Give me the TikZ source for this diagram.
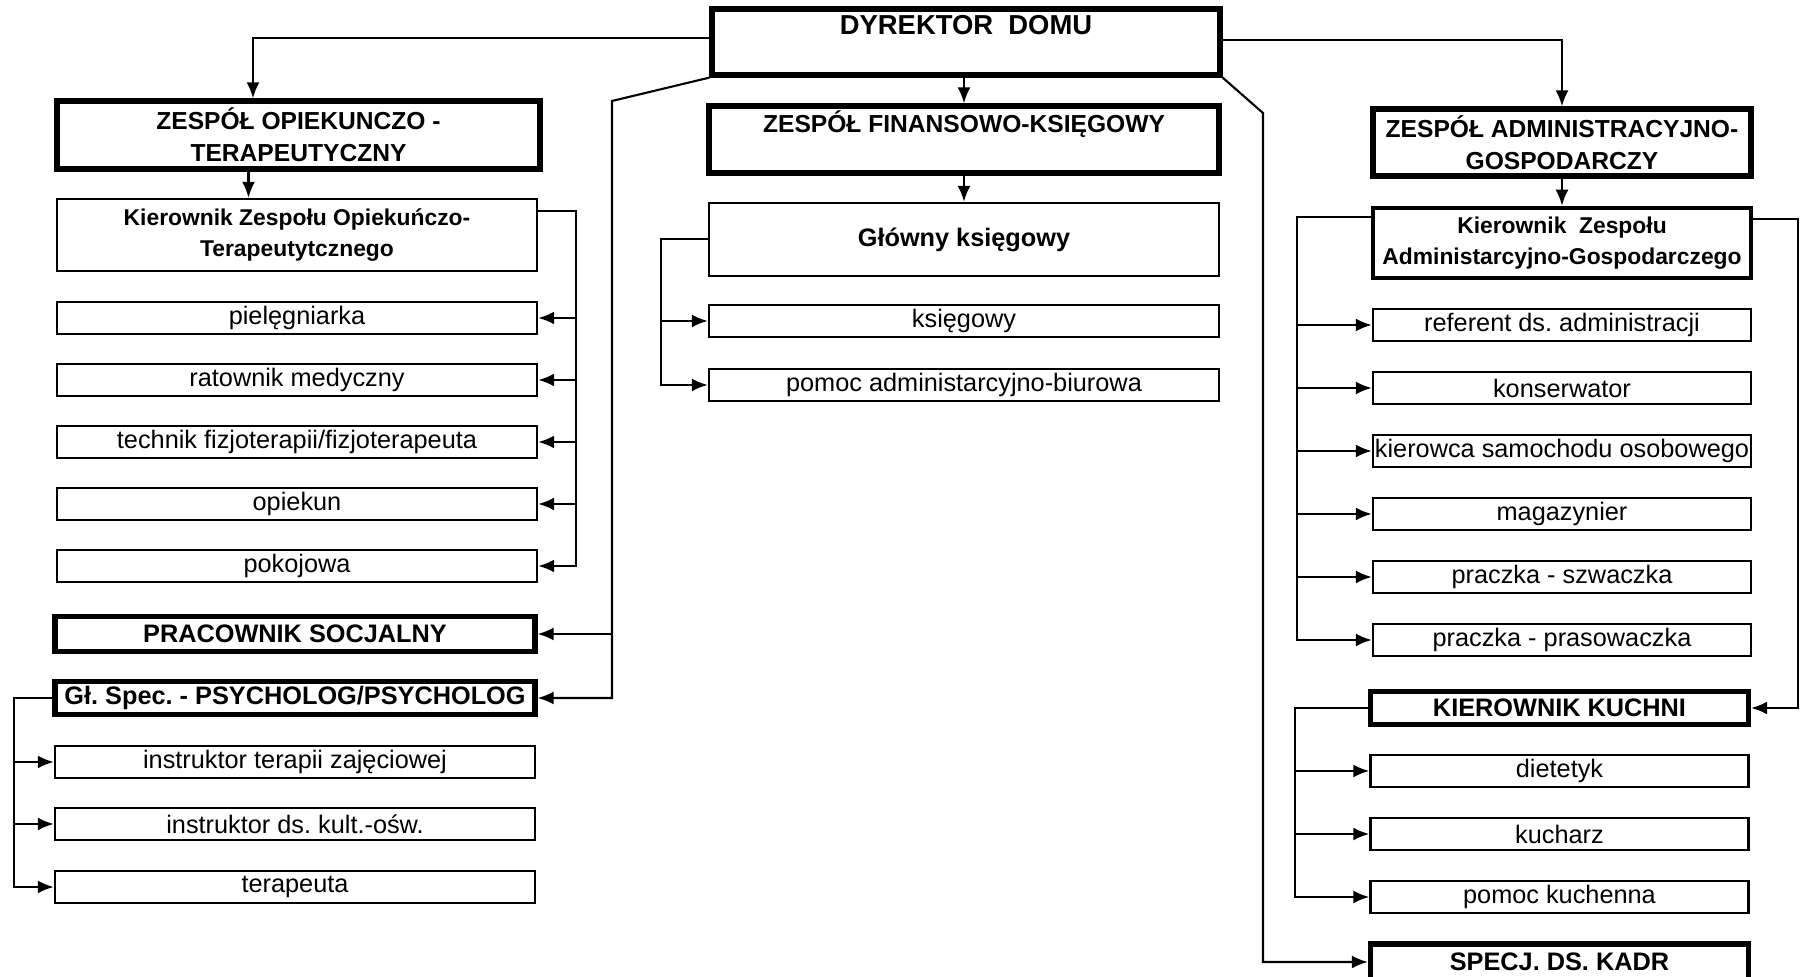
\documentclass[tikz,border=0pt]{standalone}
\usepackage{fontspec}
\setmainfont{Liberation Sans}
\usetikzlibrary{arrows.meta,positioning}
\tikzset{
  orgbox/.style={draw, rectangle, inner sep=0pt, align=center, line width=0.7pt},
  postbox/.style={orgbox, minimum height=0.32cm, font=\fontsize{7.2}{9}\selectfont},
  headbox/.style={orgbox, line width=1.5pt, font=\bfseries\fontsize{7}{9}\selectfont},
  leadbox/.style={orgbox, font=\bfseries\fontsize{6.5}{8.8}\selectfont},
  namedbox/.style={postbox, line width=1.5pt, font=\bfseries\fontsize{7.2}{9}\selectfont},
  link/.style={line width=0.6pt},
  leftcol/.style={minimum width=4.8cm},
  midcol/.style={minimum width=5.1cm},
  rightcol/.style={minimum width=3.78cm}
}
\begin{document}
\frenchspacing
\begin{tikzpicture}[>={Latex[length=1.6mm,width=1.3mm]}, node distance=0.62cm, on grid]
\useasboundingbox (0,0) rectangle (18,-9.77);
% dyrektor
\node[headbox, minimum width=5.08cm, minimum height=0.66cm, text height=0.26cm, text depth=0.40cm,
      font=\bfseries\fontsize{7.8}{9}\selectfont] (dyr) at (9.66,-0.42) {DYREKTOR\ \ DOMU};

% zespol opiekunczo-terapeutyczny
\node[headbox, minimum width=4.83cm, minimum height=0.68cm] (op) at (2.985,-1.35) {ZESPÓŁ OPIEKUNCZO -\\TERAPEUTYCZNY};
\node[leadbox, leftcol, minimum height=0.72cm] (kot) at (2.97,-2.35) {Kierownik Zespołu Opiekuńczo-\\Terapeutytcznego};
\node[postbox, leftcol] (piel) [below=0.83cm of kot] {pielęgniarka};
\node[postbox, leftcol] (rat) [below=of piel] {ratownik medyczny};
\node[postbox, leftcol] (tech) [below=of rat] {technik fizjoterapii/fizjoterapeuta};
\node[postbox, leftcol] (opie) [below=of tech] {opiekun};
\node[postbox, leftcol] (pok) [below=of opie] {pokojowa};
\node[namedbox, leftcol, minimum height=0.35cm] (ps) at (2.95,-6.34) {PRACOWNIK SOCJALNY};
\node[namedbox, leftcol, minimum height=0.33cm] (gs) [below=0.64cm of ps] {Gł. Spec. - PSYCHOLOG/PSYCHOLOG};
\node[postbox, leftcol] (itz) [below=0.64cm of gs] {instruktor terapii zajęciowej};
\node[postbox, leftcol] (ikd) [below=of itz] {instruktor ds. kult.-ośw.};
\node[postbox, leftcol] (ter) [below=0.63cm of ikd] {terapeuta};

% zespol finansowo-ksiegowy
\node[headbox, midcol, minimum height=0.67cm, text height=0.27cm, text depth=0.40cm] (fin) at (9.64,-1.395) {ZESPÓŁ FINANSOWO-KSIĘGOWY};
\node[orgbox, midcol, minimum height=0.73cm, font=\bfseries\fontsize{7.2}{9}\selectfont] (glk) at (9.64,-2.395) {Główny księgowy};
\node[postbox, midcol] (ksi) [below=0.815cm of glk] {księgowy};
\node[postbox, midcol] (pab) [below=0.64cm of ksi] {pomoc administarcyjno-biurowa};

% zespol administracyjno-gospodarczy
\node[headbox, rightcol, minimum height=0.67cm] (adm) at (15.62,-1.425) {ZESPÓŁ ADMINISTRACYJNO-\\GOSPODARCZY};
\node[leadbox, rightcol, line width=1.3pt, minimum height=0.70cm] (kag) at (15.62,-2.43) {Kierownik\ \ Zespołu\\Administarcyjno-Gospodarczego};
\node[postbox, rightcol] (ref) [below=0.82cm of kag] {referent ds. administracji};
\node[postbox, rightcol] (kons) [below=0.63cm of ref] {konserwator};
\node[postbox, rightcol] (kier) [below=0.63cm of kons] {kierowca samochodu osobowego};
\node[postbox, rightcol] (mag) [below=0.63cm of kier] {magazynier};
\node[postbox, rightcol] (szw) [below=0.63cm of mag] {praczka - szwaczka};
\node[postbox, rightcol] (pras) [below=0.63cm of szw] {praczka - prasowaczka};
\node[namedbox, rightcol, minimum height=0.33cm] (kk) at (15.595,-7.08) {KIEROWNIK KUCHNI};
\node[postbox, rightcol] (diet) [below=0.63cm of kk] {dietetyk};
\node[postbox, rightcol] (kuch) [below=0.63cm of diet] {kucharz};
\node[postbox, rightcol] (pk) [below=0.63cm of kuch] {pomoc kuchenna};
\node[namedbox, rightcol, minimum height=0.36cm] (kadr) at (15.595,-9.62) {SPECJ. DS. KADR};

% bus points
\coordinate (dlbus) at (6.12,-1.01);
\coordinate (drbus) at (12.63,-1.13);
\coordinate (otbus) at (5.76,-2.11);
\coordinate (psbus) at (0.14,-6.98);
\coordinate (fbus) at (6.61,-2.39);
\coordinate (agbus) at (12.97,-2.17);
\coordinate (kkline) at (17.98,-2.19);
\coordinate (kkbus) at (12.95,-7.08);

% dyrektor to teams
\draw[link,->] ([yshift=0.04cm]dyr.west) -| ([xshift=-0.455cm]op.north);
\draw[link,->] ([yshift=0.02cm]dyr.east) -| (adm.north);
\draw[link,->] (dyr.south -| fin.north) -- (fin.north);
\draw[link,->] (dyr.south west) -- (dlbus) |- (gs.east);
\draw[link,->] (dlbus |- ps.east) -- (ps.east);
\draw[link,->] (dyr.south east) -- (drbus) |- (kadr.west);

% teams to heads
\draw[link,->] ([xshift=-5mm]op.south) -- ([xshift=-5mm]op.south |- kot.north);
\draw[link,->] (fin.south) -- (glk.north);
\draw[link,->] (adm.south) -- (adm.south |- kag.north);

% staff
\draw[link,->] (otbus -| kot.east) -- (otbus) |- (pok.east);
\foreach \n in {piel,rat,tech,opie} \draw[link,->] (otbus |- \n.east) -- (\n.east);
\draw[link,->] (gs.west) -- (psbus) |- (ter.west);
\foreach \n in {itz,ikd} \draw[link,->] (psbus |- \n.west) -- (\n.west);
\draw[link,->] (fbus -| glk.west) -- (fbus) |- (pab.west);
\draw[link,->] (fbus |- ksi.west) -- (ksi.west);
\draw[link,->] (agbus -| kag.west) -- (agbus) |- (pras.west);
\foreach \n in {ref,kons,kier,mag,szw} \draw[link,->] (agbus |- \n.west) -- (\n.west);
\draw[link,->] (kkline -| kag.east) -- (kkline) |- (kk.east);
\draw[link,->] (kk.west) -- (kkbus) |- (pk.west);
\foreach \n in {diet,kuch} \draw[link,->] (kkbus |- \n.west) -- (\n.west);
\end{tikzpicture}
\end{document}
